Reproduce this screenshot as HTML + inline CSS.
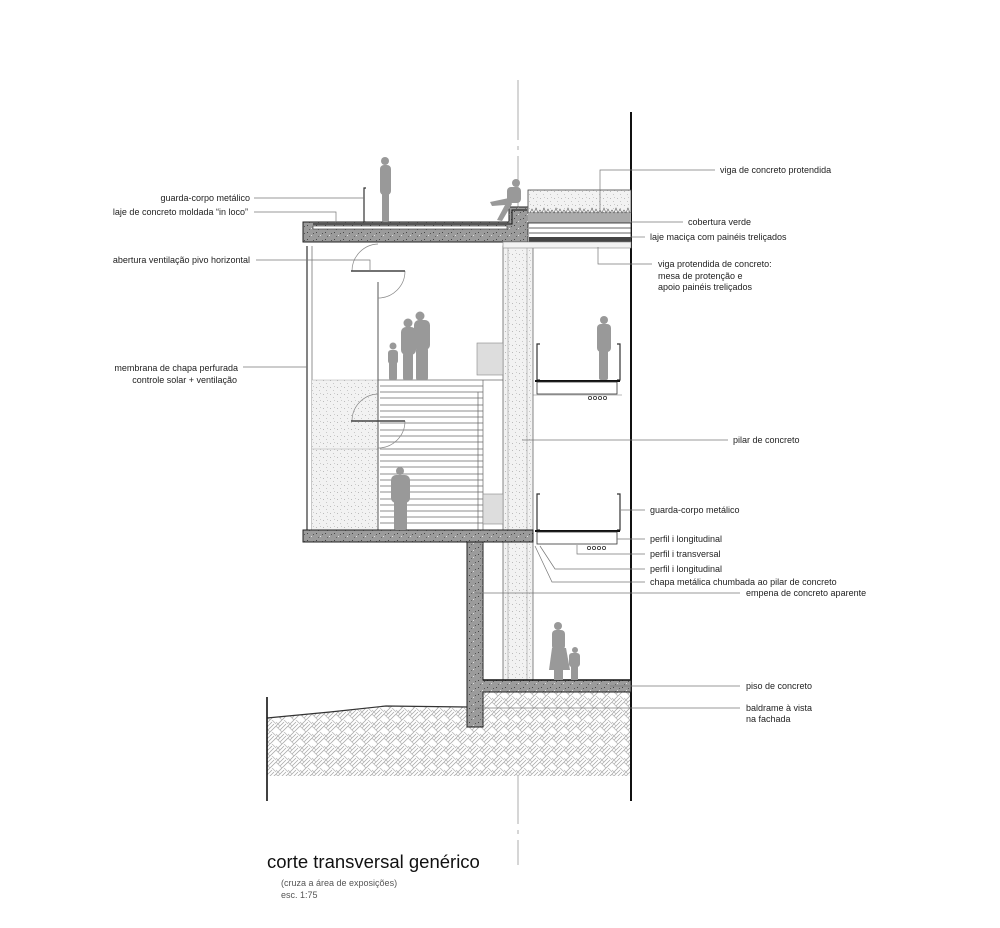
<!DOCTYPE html>
<html><head><meta charset="utf-8"><style>
html,body{margin:0;padding:0;background:#fff}
svg{display:block}
text{font-family:"Liberation Sans",Arial,sans-serif;font-size:9px;fill:#222}
</style></head><body>
<svg width="1000" height="928" viewBox="0 0 1000 928" xmlns="http://www.w3.org/2000/svg">
<defs>
<pattern id="conc" width="9" height="7" patternUnits="userSpaceOnUse">
<rect width="9" height="7" fill="#9b9b9b"/>
<rect x="1" y="1" width="1" height="1" fill="#444"/><rect x="5" y="4" width="1" height="1" fill="#ddd"/><rect x="7" y="2" width="1" height="1" fill="#555"/><rect x="3" y="5" width="1" height="1" fill="#666"/>
</pattern>
<pattern id="stip" width="7" height="7" patternUnits="userSpaceOnUse">
<rect width="7" height="7" fill="#f2f2f2"/>
<rect x="1" y="2" width="1" height="1" fill="#bbb"/><rect x="4" y="5" width="1" height="1" fill="#c8c8c8"/><rect x="5" y="1" width="1" height="1" fill="#ccc"/>
</pattern>
<pattern id="weave" width="12" height="12" patternUnits="userSpaceOnUse">
<rect width="12" height="12" fill="#fff"/>
<path d="M0 6 L6 0 M2 8 L8 2 M4 10 L10 4 M6 12 L12 6" stroke="#aaa" stroke-width="0.8"/>
<path d="M0 6 L6 12 M0 2 L4 6 M8 0 L12 4" stroke="#bbb" stroke-width="0.8"/>
</pattern>
</defs>

<line x1="518" y1="80" x2="518" y2="865" stroke="#999" stroke-width="0.8" stroke-dasharray="60 6 4 6"/>

<path d="M267 718 L330 712 L386 706 L467 707 L467 727 L483 727 L483 692 L631 692 L631 776 L267 776 Z" fill="url(#weave)"/>
<path d="M267 718 L330 712 L386 706 L467 707" fill="none" stroke="#333" stroke-width="1.2"/>
<line x1="267" y1="697" x2="267" y2="801" stroke="#111" stroke-width="1.6"/>

<line x1="631" y1="112" x2="631" y2="801" stroke="#111" stroke-width="2"/>

<rect x="503" y="246" width="30" height="434" fill="url(#stip)" stroke="#666" stroke-width="0.8"/>
<line x1="508" y1="246" x2="508" y2="680" stroke="#999" stroke-width="0.6"/>
<line x1="527" y1="246" x2="527" y2="680" stroke="#999" stroke-width="0.6"/>

<path d="M467 540 L483 540 L483 680 L631 680 L631 692 L483 692 L483 727 L467 727 Z" fill="url(#conc)" stroke="#222" stroke-width="1"/>
<line x1="483" y1="680" x2="631" y2="680" stroke="#111" stroke-width="1.5"/>

<line x1="307" y1="246" x2="307" y2="530" stroke="#333" stroke-width="1.2"/>
<line x1="312" y1="246" x2="312" y2="530" stroke="#777" stroke-width="0.8"/>
<rect x="312" y="380" width="66" height="150" fill="url(#stip)"/>
<line x1="312" y1="380" x2="378" y2="380" stroke="#aaa" stroke-width="0.6"/>
<line x1="312" y1="449" x2="378" y2="449" stroke="#aaa" stroke-width="0.6"/>

<line x1="378" y1="282" x2="378" y2="530" stroke="#555" stroke-width="1"/>
<g stroke="#666" stroke-width="0.7">
<line x1="378" y1="380" x2="503" y2="380"/>
<line x1="380" y1="386" x2="483" y2="386"/><line x1="380" y1="392" x2="483" y2="392"/><line x1="380" y1="398" x2="483" y2="398"/><line x1="380" y1="405" x2="483" y2="405"/><line x1="380" y1="411" x2="483" y2="411"/><line x1="380" y1="417" x2="483" y2="417"/><line x1="380" y1="423" x2="483" y2="423"/><line x1="380" y1="430" x2="483" y2="430"/><line x1="380" y1="436" x2="483" y2="436"/><line x1="380" y1="442" x2="483" y2="442"/><line x1="380" y1="449" x2="483" y2="449"/><line x1="380" y1="455" x2="483" y2="455"/><line x1="380" y1="461" x2="483" y2="461"/><line x1="380" y1="467" x2="483" y2="467"/><line x1="380" y1="474" x2="483" y2="474"/><line x1="380" y1="480" x2="483" y2="480"/><line x1="380" y1="486" x2="483" y2="486"/><line x1="380" y1="492" x2="483" y2="492"/><line x1="380" y1="499" x2="483" y2="499"/><line x1="380" y1="505" x2="483" y2="505"/><line x1="380" y1="511" x2="483" y2="511"/><line x1="380" y1="517" x2="483" y2="517"/><line x1="380" y1="523" x2="483" y2="523"/>
<line x1="483" y1="380" x2="483" y2="530"/><line x1="478" y1="392" x2="478" y2="530"/>
</g>
<rect x="477" y="343" width="26" height="32" fill="#ddd" stroke="#888" stroke-width="0.6"/>
<rect x="483" y="494" width="20" height="30" fill="#ddd" stroke="#888" stroke-width="0.6"/>
<g fill="none" stroke="#888" stroke-width="0.7">
<path d="M352 271 A27 27 0 0 1 378 244"/><path d="M405 271 A27 27 0 0 1 378 298"/>
<path d="M352 421 A27 27 0 0 1 378 394"/><path d="M405 421 A27 27 0 0 1 378 448"/>
</g>
<line x1="351" y1="271" x2="405" y2="271" stroke="#444" stroke-width="1.5"/>
<line x1="351" y1="421" x2="405" y2="421" stroke="#444" stroke-width="1.5"/>

<rect x="303" y="530" width="230" height="12" fill="url(#conc)" stroke="#222" stroke-width="1"/>

<path d="M303 222 L509 222 L509 207 L529 207 L529 242 L303 242 Z" fill="url(#conc)" stroke="#222" stroke-width="1"/>
<path d="M313 224 L512 224 L512 210 L527 210" fill="none" stroke="#111" stroke-width="1"/>
<rect x="313" y="226" width="194" height="3" fill="#fff" stroke="#333" stroke-width="0.6"/>
<rect x="528" y="190" width="103" height="23" fill="url(#stip)" stroke="#444" stroke-width="0.8"/>
<rect x="528" y="213" width="103" height="10" fill="#aaa"/>
<path d="M530 213 l2 -4 l2 4 l2 -5 l2 5 l2 -3 l2 3 l2 -5 l2 5 l2 -4 l2 4 l2 -3 l2 3 l2 -5 l2 5 l2 -4 l2 4 l2 -3 l2 3 l2 -5 l2 5 l2 -4 l2 4 l2 -3 l2 3 l2 -5 l2 5 l2 -4 l2 4 l2 -3 l2 3 l2 -5 l2 5 l2 -4 l2 4 l2 -3 l2 3 l2 -5 l2 5 l2 -4 l2 4 l2 -3 l2 3 l2 -5 l2 5 l2 -4 l2 4 l2 -3 l2 3 l2 -5 l2 5" fill="none" stroke="#666" stroke-width="0.6"/>
<rect x="528" y="223" width="103" height="19" fill="#fff" stroke="#222" stroke-width="0.8"/>
<line x1="529" y1="228" x2="631" y2="228" stroke="#333" stroke-width="0.8"/>
<line x1="529" y1="233" x2="631" y2="233" stroke="#333" stroke-width="0.8"/>
<rect x="529" y="237" width="102" height="5" fill="#444"/>
<rect x="503" y="242" width="128" height="6" fill="#f3f3f3" stroke="#888" stroke-width="0.6"/>

<g stroke="#333" fill="none" stroke-width="1.2">
<path d="M540 344 L537 344 L537 380 L540 380"/><path d="M617 344 L620 344 L620 380 L617 380"/>
<path d="M540 494 L537 494 L537 530 L540 530"/><path d="M617 494 L620 494 L620 530 L617 530"/>
</g>
<line x1="535" y1="381" x2="620" y2="381" stroke="#111" stroke-width="2"/>
<rect x="537" y="382" width="80" height="12" fill="#fff" stroke="#333" stroke-width="0.8"/>
<line x1="533" y1="395" x2="622" y2="395" stroke="#777" stroke-width="0.6"/>
<line x1="535" y1="531" x2="620" y2="531" stroke="#111" stroke-width="2"/>
<rect x="537" y="532" width="80" height="12" fill="#fff" stroke="#333" stroke-width="0.8"/>
<g fill="none" stroke="#333" stroke-width="0.8">
<circle cx="590" cy="398" r="1.6"/><circle cx="595" cy="398" r="1.6"/><circle cx="600" cy="398" r="1.6"/><circle cx="605" cy="398" r="1.6"/>
<circle cx="589" cy="548" r="1.6"/><circle cx="594" cy="548" r="1.6"/><circle cx="599" cy="548" r="1.6"/><circle cx="604" cy="548" r="1.6"/>
</g>
<path d="M366 188 L364 188 L364 222 M366 222 L364 222" stroke="#333" fill="none" stroke-width="1.2"/>

<g fill="#999">
<circle cx="385" cy="161" r="4"/><rect x="380" y="165" width="11" height="30" rx="4"/><rect x="382" y="193" width="7" height="29" rx="2"/>
<circle cx="516" cy="183" r="4"/><rect x="507" y="187" width="14" height="16" rx="4"/><path d="M509 198 L490 202 L492 206 L505 205 L497 220 L502 221 L512 204 Z"/>
<circle cx="420" cy="316" r="4.5"/><rect x="414" y="320" width="16" height="30" rx="5"/><rect x="416" y="348" width="12" height="32" rx="2"/>
<circle cx="408" cy="323" r="4.5"/><rect x="401" y="327" width="15" height="28" rx="5"/><rect x="403" y="353" width="10" height="27" rx="2"/>
<circle cx="393" cy="346" r="3.5"/><rect x="388" y="350" width="10" height="14" rx="3"/><rect x="389" y="362" width="8" height="18" rx="2"/>
<circle cx="400" cy="471" r="4"/><rect x="391" y="475" width="19" height="28" rx="5"/><rect x="394" y="500" width="13" height="30" rx="2"/>
<circle cx="604" cy="320" r="4"/><rect x="597" y="324" width="14" height="28" rx="4"/><rect x="599" y="350" width="9" height="30" rx="2"/>
<circle cx="558" cy="626" r="4"/><rect x="552" y="630" width="13" height="20" rx="4"/><path d="M552 648 L566 648 L570 670 L549 670 Z"/><rect x="554" y="668" width="9" height="12"/>
<circle cx="575" cy="650" r="3"/><rect x="569" y="653" width="11" height="14" rx="3"/><rect x="571" y="665" width="7" height="15"/>
</g>

<g stroke="#777" stroke-width="0.7" fill="none">
<path d="M254 198 L364 198"/>
<path d="M254 212 L336 212 L336 223"/>
<path d="M256 260 L370 260 L370 271"/>
<path d="M243 367 L307 367"/>
<path d="M600 212 L600 170 L715 170"/>
<path d="M631 222 L683 222"/>
<path d="M631 237 L645 237"/>
<path d="M598 247 L598 264 L652 264"/>
<path d="M522 440 L728 440"/>
<path d="M621 510 L645 510"/>
<path d="M617 539 L645 539"/>
<path d="M577 545 L577 554 L645 554"/>
<path d="M540 546 L555 569 L645 569"/>
<path d="M535 546 L552 582 L645 582"/>
<path d="M475 593 L740 593"/>
<path d="M610 686 L740 686"/>
<path d="M475 708 L740 708"/>
</g>

<g text-anchor="end">
<text x="250" y="201">guarda-corpo metálico</text>
<text x="248" y="215">laje de concreto moldada “in loco”</text>
<text x="250" y="263">abertura ventilação pivo horizontal</text>
<text x="238" y="371">membrana  de  chapa perfurada</text>
<text x="237" y="383">controle solar + ventilação</text>
</g>
<text x="720" y="173">viga de concreto  protendida</text>
<text x="688" y="225">cobertura verde</text>
<text x="650" y="240">laje maciça com painéis treliçados</text>
<text x="658" y="267">viga protendida de concreto:</text>
<text x="658" y="279">mesa de protenção e</text>
<text x="658" y="290">apoio painéis treliçados</text>
<text x="733" y="443">pilar de concreto</text>
<text x="650" y="513">guarda-corpo metálico</text>
<text x="650" y="542">perfil  i longitudinal</text>
<text x="650" y="557">perfil i transversal</text>
<text x="650" y="572">perfil  i longitudinal</text>
<text x="650" y="585">chapa metálica chumbada ao pilar de concreto</text>
<text x="746" y="596">empena de concreto aparente</text>
<text x="746" y="689">piso de concreto</text>
<text x="746" y="711">baldrame à vista</text>
<text x="746" y="722">na fachada</text>

<text x="267" y="868" style="font-size:18.5px;fill:#111">corte transversal genérico</text>
<text x="281" y="886" style="font-size:9px;fill:#555">(cruza a área de exposições)</text>
<text x="281" y="898" style="font-size:9px;fill:#555">esc. 1:75</text>
</svg>
</body></html>
